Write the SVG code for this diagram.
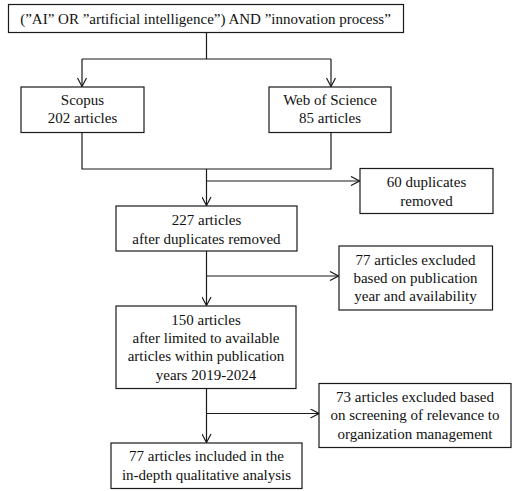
<svg xmlns="http://www.w3.org/2000/svg" width="520" height="491" viewBox="0 0 520 491">
<style>
.box{fill:#fff;stroke:#1a1a1a;stroke-width:1.2}
.ln{fill:none;stroke:#1a1a1a;stroke-width:1.2}
text{font-family:"Liberation Serif","Times New Roman",serif;font-size:15px;fill:#111;text-anchor:middle}
</style>
<defs>
<marker id="arr" viewBox="0 0 10 10" refX="9.5" refY="5" markerWidth="10" markerHeight="10" markerUnits="userSpaceOnUse" orient="auto">
<path d="M1,0.5 L9.5,5 L1,9.5" fill="none" stroke="#1a1a1a" stroke-width="1.2"/>
</marker>
</defs>
<rect width="520" height="491" fill="#fff"/>
<g id="connectors">
<path class="ln" d="M206.5,32.5 V59 M82,59 H331"/>
<path class="ln" d="M82,59 V86.5" marker-end="url(#arr)"/>
<path class="ln" d="M331,59 V86.5" marker-end="url(#arr)"/>
<path class="ln" d="M82,132.5 V169 H331 V132.5"/>
<path class="ln" d="M206.5,169 V205.5" marker-end="url(#arr)"/>
<path class="ln" d="M206.5,181 H359.5" marker-end="url(#arr)"/>
<path class="ln" d="M206.5,251 V305.5" marker-end="url(#arr)"/>
<path class="ln" d="M206.5,276 H338.5" marker-end="url(#arr)"/>
<path class="ln" d="M206.5,388.5 V442.5" marker-end="url(#arr)"/>
<path class="ln" d="M206.5,413.5 H319" marker-end="url(#arr)"/>
</g>
<g id="query">
<rect class="box" x="8.5" y="4.5" width="395" height="28"/>
<text x="205.5" y="23.5">(”AI” OR ”artificial intelligence”) AND ”innovation process”</text>
</g>
<g id="scopus">
<rect class="box" x="21" y="87" width="123" height="45.5"/>
<text x="82.5" y="104.5">Scopus</text>
<text x="82.5" y="123">202 articles</text>
</g>
<g id="wos">
<rect class="box" x="269" y="87" width="122" height="45.5"/>
<text x="330" y="104.5">Web of Science</text>
<text x="330" y="123">85 articles</text>
</g>
<g id="duplicates">
<rect class="box" x="360" y="168.5" width="133" height="45"/>
<text x="426.5" y="187">60 duplicates</text>
<text x="426.5" y="205.5">removed</text>
</g>
<g id="n227">
<rect class="box" x="116" y="206" width="181" height="45"/>
<text x="206.5" y="225">227 articles</text>
<text x="206.5" y="243.5">after duplicates removed</text>
</g>
<g id="excl77">
<rect class="box" x="339" y="246" width="153.5" height="64"/>
<text x="415.5" y="264.5">77 articles excluded</text>
<text x="415.5" y="282.5">based on publication</text>
<text x="415.5" y="301">year and availability</text>
</g>
<g id="n150">
<rect class="box" x="116" y="306" width="180" height="82.5"/>
<text x="206" y="325">150 articles</text>
<text x="206" y="343">after limited to available</text>
<text x="206" y="361.3">articles within publication</text>
<text x="206" y="379.5">years 2019-2024</text>
</g>
<g id="excl73">
<rect class="box" x="319" y="383.5" width="192" height="64"/>
<text x="415" y="402">73 articles excluded based</text>
<text x="415" y="420.3">on screening of relevance to</text>
<text x="415" y="438.5">organization management</text>
</g>
<g id="included">
<rect class="box" x="111" y="443" width="191" height="45.5"/>
<text x="206.5" y="461.3">77 articles included in the</text>
<text x="206.5" y="479.5">in-depth qualitative analysis</text>
</g>
</svg>
